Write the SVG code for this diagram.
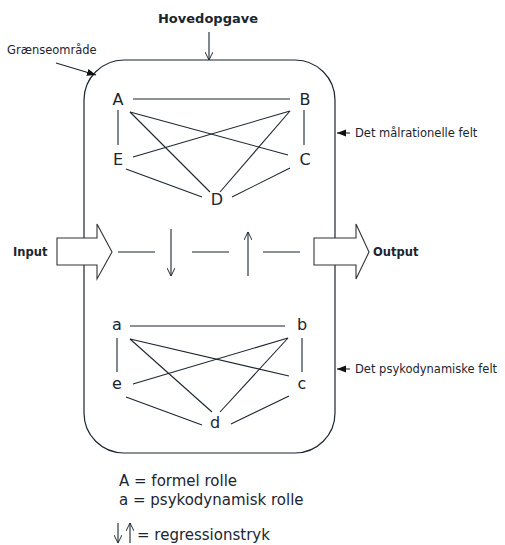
<svg xmlns="http://www.w3.org/2000/svg" width="505" height="545" viewBox="0 0 505 545">
<defs>
<style>
text{font-family:"DejaVu Sans",Verdana,sans-serif;fill:#1b2530}
.n{font-size:16px;text-anchor:middle}
.b{font-weight:bold}
.s{font-size:11.5px}
.l{font-size:15px}
.e{stroke:#1b2530;stroke-width:1.1;fill:none}
.big{fill:#fff;stroke:#333;stroke-width:1.1}
</style>
<marker id="open" viewBox="0 0 10 10" refX="10" refY="5" markerWidth="8" markerHeight="8" markerUnits="userSpaceOnUse" orient="auto">
<path d="M0,0 L10,5 L0,10" fill="none" stroke="#1b2530" stroke-width="1.2"/>
</marker>
<marker id="fill" viewBox="0 0 10 10" refX="10" refY="5" markerWidth="9" markerHeight="9" markerUnits="userSpaceOnUse" orient="auto">
<path d="M0,1 L10,5 L0,9 Z" fill="#111"/>
</marker>
</defs>
<rect id="boundary" x="84" y="60" width="251" height="393" rx="40" ry="40" fill="none" stroke="#1b2530" stroke-width="1.2"/>
<g id="labels">
<text x="208" y="23" class="b" font-size="13" text-anchor="middle">Hovedopgave</text>
<text x="7" y="54" class="s">Grænseområde</text>
<text x="355" y="137" class="s">Det målrationelle felt</text>
<text x="355" y="373" class="s">Det psykodynamiske felt</text>
</g>
<g id="connectors">
<line class="e" x1="209" y1="32" x2="209" y2="60" marker-end="url(#open)"/>
<line class="e" x1="56" y1="63" x2="96" y2="75" marker-end="url(#fill)"/>
<line class="e" x1="350" y1="133" x2="337" y2="133" marker-end="url(#fill)"/>
<line class="e" x1="350" y1="369" x2="337" y2="369" marker-end="url(#fill)"/>
<!-- upper -->
<line class="e" x1="133" y1="99" x2="290" y2="99"/>
<line class="e" x1="118" y1="110" x2="118" y2="145"/>
<line class="e" x1="304" y1="110" x2="304" y2="145"/>
<line class="e" x1="130" y1="112" x2="288" y2="155"/>
<line class="e" x1="130" y1="112" x2="210" y2="192"/>
<line class="e" x1="290" y1="111" x2="133" y2="157"/>
<line class="e" x1="290" y1="111" x2="220" y2="192"/>
<line class="e" x1="126" y1="169" x2="202" y2="197"/>
<line class="e" x1="290" y1="168" x2="232" y2="197"/>
<!-- lower -->
<line class="e" x1="130" y1="326" x2="285" y2="326"/>
<line class="e" x1="117" y1="338" x2="117" y2="372"/>
<line class="e" x1="302" y1="338" x2="302" y2="372"/>
<line class="e" x1="130" y1="339" x2="289" y2="376"/>
<line class="e" x1="130" y1="339" x2="212" y2="412"/>
<line class="e" x1="288" y1="338" x2="133" y2="384"/>
<line class="e" x1="288" y1="338" x2="220" y2="412"/>
<line class="e" x1="126" y1="397" x2="202" y2="425"/>
<line class="e" x1="289" y1="396" x2="231" y2="424"/>
<!-- middle -->
<line class="e" x1="118" y1="252" x2="155" y2="252"/>
<line class="e" x1="192" y1="252" x2="229" y2="252"/>
<line class="e" x1="263" y1="252" x2="300" y2="252"/>
<line class="e" x1="171" y1="229" x2="171" y2="276" marker-end="url(#open)"/>
<line class="e" x1="248" y1="276" x2="248" y2="232" marker-end="url(#open)"/>
<!-- legend arrows -->
<line class="e" x1="118" y1="523" x2="118" y2="543" marker-end="url(#open)"/>
<line class="e" x1="130" y1="543" x2="130" y2="523" marker-end="url(#open)"/>
</g>
<g id="input">
<polygon class="big" points="57,238 97,238 97,224 112,252 97,279 97,265 57,265"/>
<text x="13" y="256" class="b" font-size="11.5">Input</text>
</g>
<g id="output">
<polygon class="big" points="314,238 356,238 356,224 369,252 356,279 356,265 314,265"/>
<text x="373" y="256" class="b" font-size="11.5">Output</text>
</g>
<g id="node-A"><text class="n" x="118" y="105">A</text></g>
<g id="node-B"><text class="n" x="305" y="105">B</text></g>
<g id="node-E"><text class="n" x="118" y="165">E</text></g>
<g id="node-C"><text class="n" x="305" y="165">C</text></g>
<g id="node-D"><text class="n" x="217" y="205">D</text></g>
<g id="node-a"><text class="n" x="117" y="330">a</text></g>
<g id="node-b"><text class="n" x="302" y="330">b</text></g>
<g id="node-e"><text class="n" x="117" y="389">e</text></g>
<g id="node-c"><text class="n" x="302" y="389">c</text></g>
<g id="node-d"><text class="n" x="215" y="428">d</text></g>
<g id="legend">
<text x="119" y="486" class="l">A = formel rolle</text>
<text x="119" y="505" class="l">a = psykodynamisk rolle</text>
<text x="137" y="540" class="l">= regressionstryk</text>
</g>
</svg>
